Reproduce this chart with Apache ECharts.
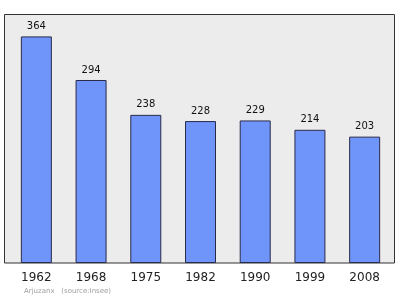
<!DOCTYPE html>
<html>
<head>
<meta charset="utf-8">
<script src="https://cdn.jsdelivr.net/npm/echarts@6/dist/echarts.min.js"></script>
<style>html,body{margin:0;padding:0;background:#fff;}#c{width:400px;height:299px;}</style>
</head>
<body>
<div id="c"></div>
<script>
const years = ['1962', '1968', '1975', '1982', '1990', '1999', '2008'];
const population = [364, 294, 238, 228, 229, 214, 203];
const footerText = 'Arjuzanx   (source:Insee)';

const chart = echarts.init(document.getElementById('c'), null, {renderer: 'canvas'});
chart.setOption({
  animation: false,
  backgroundColor: '#ffffff',
  textStyle: {fontFamily: 'DejaVu Sans'},
  graphic: [
    {type: 'rect', z: -10, shape: {x: 4.5, y: 14.5, width: 390, height: 248.5},
     style: {fill: '#ececec', stroke: '#333333', lineWidth: 1}},
    {type: 'text', left: 24, top: 288,
     style: {text: footerText, fill: '#a0a0a0', font: '7px "DejaVu Sans"'}}
  ],
  grid: {left: 9, right: 8, top: 14, bottom: 36},
  xAxis: {
    type: 'category', data: years,
    axisLine: {show: false}, axisTick: {show: false},
    axisLabel: {color: '#222', fontSize: 12, margin: 9, fontFamily: 'DejaVu Sans'}
  },
  yAxis: {
    type: 'value', min: 0, max: 400,
    axisLine: {show: false}, axisTick: {show: false}, axisLabel: {show: false},
    splitLine: {show: false}
  },
  series: [{
    type: 'bar', data: population, barWidth: 31,
    itemStyle: {color: '#6f95fb', borderColor: '#2a2a4a', borderWidth: 1},
    label: {show: true, position: 'top', distance: 5, color: '#111', fontSize: 10, fontFamily: 'DejaVu Sans'}
  }]
});
</script>
</body>
</html>
